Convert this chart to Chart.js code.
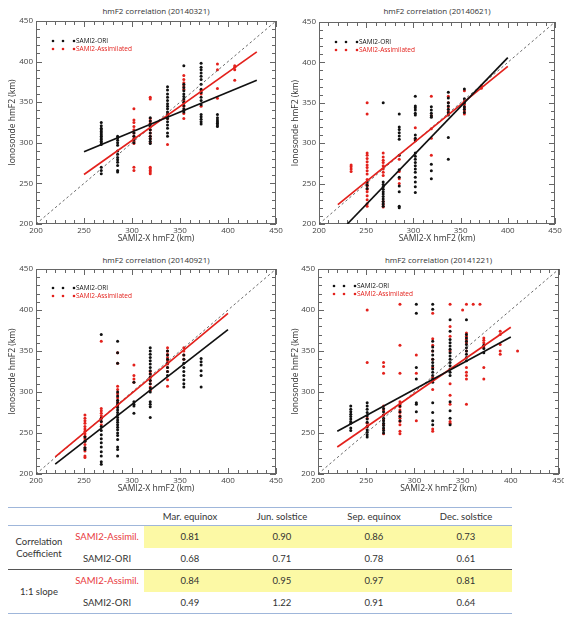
<!DOCTYPE html>
<html>
<head>
<meta charset="utf-8">
<script src="https://cdn.jsdelivr.net/npm/chart.js@4.4.0/dist/chart.umd.min.js"></script>
<style>
  body { margin: 0; background: #fff; width: 573px; height: 624px; position: relative; overflow: hidden; font-family: "Open Sans", sans-serif; }
  canvas { position: absolute; }
  .ptitle { position: absolute; font-size: 8px; color: #333; text-align: center; white-space: nowrap; }
  #tbl { position: absolute; left: 8px; top: 507px; width: 504px; border-collapse: collapse; table-layout: fixed;
         font-family: Lato, sans-serif; font-size: 9.5px; color: #333; }
  #tbl td, #tbl th { padding: 0; text-align: center; font-weight: normal; }
  #tbl tr.head { height: 18px; border-top: 1.5px solid #9fb6da; border-bottom: 1px solid #9fb6da; }
  #tbl tr.row { height: 22px; }
  #tbl tr.sep { border-top: 1.5px solid #555; }
  #tbl tr.last { border-bottom: 1.5px solid #9fb6da; }
  #tbl .red { color: #e8383d; }
  #tbl .hl { background: #fcf9a5; }
  #tbl .grp { line-height: 12px; }
</style>
</head>
<body>
<div class="ptitle" id="t1" style="left:36px;width:240px;top:5px;"></div>
<div class="ptitle" id="t2" style="left:319px;width:236px;top:5px;"></div>
<div class="ptitle" id="t3" style="left:36px;width:240px;top:254px;"></div>
<div class="ptitle" id="t4" style="left:318px;width:241px;top:254px;"></div>
<canvas id="c1" width="283" height="250" style="left:0;top:0;"></canvas>
<canvas id="c2" width="290" height="250" style="left:283px;top:0;"></canvas>
<canvas id="c3" width="283" height="250" style="left:0;top:250px;"></canvas>
<canvas id="c4" width="281" height="250" style="left:283px;top:250px;"></canvas>
<table id="tbl"></table>
<script>
// panel titles
var titles = ['hmF2 correlation (20140321)', 'hmF2 correlation (20140621)',
              'hmF2 correlation (20140921)', 'hmF2 correlation (20141221)'];

// scatter columns: [model hmF2, [ionosonde hmF2 values]]
var marOri = [
  [268, [262, 266, 270, 298, 300, 302, 304, 306, 308, 310, 312, 314, 316, 318, 321, 325]],
  [285, [264, 266, 272, 276, 279, 282, 286, 290, 297, 300, 303, 306, 308]],
  [302, [300, 304, 308, 312]],
  [319, [299, 302, 305, 308, 312, 316, 320, 323, 327, 331]],
  [337, [308, 312, 318, 322, 326, 330, 334, 338, 342, 345, 348, 352, 356, 360, 365, 369]],
  [354, [338, 342, 346, 350, 354, 357, 360, 364, 368, 372, 395]],
  [372, [323, 326, 329, 332, 335, 347, 352, 356, 362, 366, 372, 378, 382, 386, 390, 393, 398]],
  [389, [320, 322, 324, 326, 328, 331, 335]]
];
var marAsm = [
  [302, [266, 270, 299, 302, 305, 308, 312, 316, 320, 325, 328, 342]],
  [319, [262, 264, 266, 268, 270, 300, 305, 308, 312, 316, 320, 324, 327, 330, 354, 356]],
  [337, [298, 330, 333, 336]],
  [354, [330, 336, 340, 345, 349, 352, 366, 370, 374, 378, 383]],
  [372, [345, 360, 364]],
  [389, [355, 367, 390, 397]],
  [407, [377, 390, 393, 395]]
];
var junOri = [
  [251, [244, 248, 252]],
  [268, [222, 225, 228, 231, 234, 237, 240, 243, 246, 249, 252, 350]],
  [285, [220, 222, 240, 247, 258, 267, 285, 305, 309, 313, 317, 320, 336]],
  [302, [239, 246, 252, 258, 264, 268, 272, 276, 280, 284, 288, 303, 306, 310, 335, 337, 341, 344, 346, 358]],
  [319, [256, 266, 274, 332, 334, 337, 341, 345]],
  [337, [280, 307, 335, 338, 342, 346, 350, 356, 363]],
  [354, [338, 342, 345, 350, 355, 367]]
];
var junAsm = [
  [234, [265, 268, 271, 273]],
  [251, [222, 225, 230, 235, 240, 243, 247, 250, 255, 262, 266, 270, 273, 277, 281, 285, 288, 336, 350]],
  [268, [221, 224, 228, 260, 264, 268, 272, 276, 279, 283, 288]],
  [285, [250, 256, 265, 280]],
  [302, [305, 319]],
  [319, [285, 306, 318, 334, 358]],
  [337, [336, 340, 345, 350, 358]],
  [354, [336, 340, 344, 348, 352, 365]],
  [372, [368, 371]]
];
var sepOri = [
  [251, [230, 232, 240, 245]],
  [268, [212, 215, 222, 227, 233, 238, 243, 248, 253, 258, 264, 268, 370]],
  [285, [222, 230, 233, 242, 247, 250, 254, 257, 260, 263, 266, 269, 272, 275, 278, 281, 284, 287, 290, 295, 300, 335, 348, 362]],
  [302, [274, 283, 285, 288, 312]],
  [319, [269, 282, 285, 288, 300, 305, 310, 314, 318, 322, 326, 330, 334, 338, 342, 346, 350, 354]],
  [337, [320, 325, 330, 335, 340, 345, 350]],
  [354, [306, 310, 315, 320, 325, 330, 335, 340, 345]],
  [372, [306, 320, 326, 333, 337, 341]]
];
var sepAsm = [
  [251, [220, 222, 228, 232, 236, 240, 243, 246, 249, 252, 255, 258, 262, 265, 268, 272]],
  [268, [260, 264, 268, 271, 274, 277, 280, 362]],
  [285, [282, 285, 289, 293, 298, 303, 307, 335, 348]],
  [302, [312, 316, 320, 333]],
  [319, [302, 306, 310, 314, 318, 322, 325]],
  [337, [307, 315, 325, 330, 334, 338, 342, 346, 350, 354]],
  [354, [340, 345, 350, 354]]
];
var decOri = [
  [234, [253, 256, 262, 264, 267, 270, 273, 276, 279, 283]],
  [251, [245, 248, 251, 254, 258, 263, 267, 271, 275, 279, 283, 287]],
  [268, [250, 253, 256, 259, 262, 265, 268, 272, 276, 280]],
  [285, [265, 270, 276, 283]],
  [302, [276, 285, 287, 316, 330, 396, 407]],
  [319, [260, 265, 275, 287, 312, 316, 320, 324, 328, 332, 336, 340, 345, 350, 355, 362, 401, 407]],
  [337, [260, 268, 277, 288, 320, 324, 328, 332, 336, 340, 344, 348, 352, 356, 360, 364, 374, 388]],
  [354, [338, 342, 346, 350, 354, 358, 362, 366, 370, 388]],
  [372, [348, 353, 357]]
];
var decAsm = [
  [251, [258, 262, 268, 336, 400]],
  [268, [249, 255, 260, 266, 272, 278, 283, 323, 331, 336]],
  [285, [249, 252, 260, 264, 268, 271, 275, 278, 282, 285, 288, 323, 357, 407]],
  [302, [265, 323, 345]],
  [319, [252, 255, 303, 318, 330, 340, 350, 357, 365, 396]],
  [337, [262, 264, 285, 296, 310, 350, 368, 380, 407]],
  [350, [400]],
  [354, [285, 316, 320, 324, 330, 350, 360, 364, 368, 372, 407]],
  [361, [407]],
  [368, [407]],
  [372, [316, 330, 355, 360, 363, 366]],
  [389, [346, 350, 358, 370, 374]],
  [407, [350]]
];

// linear fit end points
var marOriFit = [[250, 289], [430, 377]];
var marAsmFit = [[250, 261], [430, 412]];
var junOriFit = [[230, 200], [400, 406]];
var junAsmFit = [[220, 224], [400, 395]];
var sepOriFit = [[220, 212], [400, 376]];
var sepAsmFit = [[220, 221], [400, 396]];
var decOriFit = [[220, 252], [400, 367]];
var decAsmFit = [[220, 233], [400, 379]];
var oneToOne = [[200, 200], [450, 450]];

// table
var seasons = ['Mar. equinox', 'Jun. solstice', 'Sep. equinox', 'Dec. solstice'];
var corrAsm = [0.81, 0.90, 0.86, 0.73];
var corrOri = [0.68, 0.71, 0.78, 0.61];
var slopeAsm = [0.84, 0.95, 0.97, 0.81];
var slopeOri = [0.49, 1.22, 0.91, 0.64];

var RED = '#e3211c';
var BLACK = '#111';

function columnsToPoints(cols) {
  var pts = [];
  cols.forEach(function (c) {
    c[1].forEach(function (y) { pts.push({ x: c[0], y: y }); });
  });
  return pts;
}
function pairs(arr) {
  return arr.map(function (p) { return { x: p[0], y: p[1] }; });
}

// box with inward ticks on all four sides
var frame = {
  id: 'frame',
  beforeDatasetsDraw: function (chart) {
    var a = chart.chartArea, c = chart.ctx;
    var xs = chart.scales.x, ys = chart.scales.y;
    c.save();
    c.strokeStyle = '#666';
    c.lineWidth = 1;
    c.strokeRect(a.left + 0.5, a.top + 0.5, a.right - a.left - 1, a.bottom - a.top - 1);
    c.beginPath();
    for (var v = 200; v <= 450; v += 10) {
      var len = v % 50 === 0 ? 6 : 4;
      var px = Math.round(xs.getPixelForValue(v)) + 0.5;
      c.moveTo(px, a.bottom); c.lineTo(px, a.bottom - len);
      c.moveTo(px, a.top); c.lineTo(px, a.top + len);
      var py = Math.round(ys.getPixelForValue(v)) + 0.5;
      c.moveTo(a.left, py); c.lineTo(a.left + len, py);
      c.moveTo(a.right, py); c.lineTo(a.right - len, py);
    }
    c.stroke();
    c.restore();
  }
};

// legend drawn inside the plot, upper left
var inLegend = {
  id: 'inlegend',
  afterDraw: function (chart, args, opts) {
    var a = chart.chartArea, c = chart.ctx;
    var rows = [['SAMI2-ORI', BLACK], ['SAMI2-Assimilated', RED]];
    c.save();
    c.font = '6.5px "Open Sans"';
    c.textBaseline = 'middle';
    rows.forEach(function (r, i) {
      var y = a.top + opts.dy + i * 8;
      c.fillStyle = r[1];
      [opts.dx, opts.dx + 10, opts.dx + 21].forEach(function (x) {
        c.beginPath(); c.arc(a.left + x, y, 1.3, 0, Math.PI * 2); c.fill();
      });
      c.fillText(r[0], a.left + opts.dx + 23, y);
    });
    c.restore();
  }
};

function makePanel(id, ori, asm, oriFit, asmFit, lay) {
  var ctx = document.getElementById(id).getContext('2d');
  return new Chart(ctx, {
    type: 'scatter',
    data: {
      datasets: [
        { data: pairs(oriFit), showLine: true, borderColor: BLACK, borderWidth: 1.7, pointRadius: 0, order: 0 },
        { data: pairs(asmFit), showLine: true, borderColor: RED, borderWidth: 1.7, pointRadius: 0, order: 0 },
        { data: pairs(oneToOne), showLine: true, borderColor: '#444', borderWidth: 0.8, borderDash: [2.5, 2.5], pointRadius: 0, order: 1 },
        { label: 'SAMI2-ORI', data: columnsToPoints(ori), backgroundColor: BLACK, borderWidth: 0, pointRadius: 1.5, order: 2 },
        { label: 'SAMI2-Assimilated', data: columnsToPoints(asm), backgroundColor: RED, borderWidth: 0, pointRadius: 1.5, order: 2 }
      ]
    },
    options: {
      responsive: false,
      animation: false,
      layout: { padding: { left: 0, right: lay.right, top: lay.top, bottom: 0 } },
      plugins: {
        legend: { display: false },
        tooltip: { enabled: false },
        inlegend: { dx: lay.dx, dy: lay.dy }
      },
      scales: {
        x: {
          type: 'linear', min: 200, max: 450,
          grid: { display: false, drawTicks: false },
          border: { display: false },
          ticks: { stepSize: 50, color: '#444', font: { size: 8, family: 'Open Sans' }, padding: 2, maxRotation: 0 },
          title: { display: true, text: 'SAMI2-X hmF2 (km)', color: '#333', font: { size: 8.5, family: 'Open Sans' }, padding: { top: 0, bottom: 6 } },
          afterFit: function (s) { s.height = 250 - lay.bottom; s.paddingLeft = 0; s.paddingRight = 0; }
        },
        y: {
          type: 'linear', min: 200, max: 450,
          grid: { display: false, drawTicks: false },
          border: { display: false },
          ticks: { stepSize: 50, color: '#444', font: { size: 8, family: 'Open Sans' }, padding: 3 },
          title: { display: true, text: 'Ionosonde hmF2 (km)', color: '#333', font: { size: 8.5, family: 'Open Sans' }, padding: { top: 7, bottom: 0 } },
          afterFit: function (s) { s.width = lay.left; }
        }
      }
    },
    plugins: [frame, inLegend]
  });
}

document.addEventListener('DOMContentLoaded', function () {
  ['t1', 't2', 't3', 't4'].forEach(function (id, i) {
    document.getElementById(id).textContent = titles[i];
  });

  makePanel('c1', marOri, marAsm, marOriFit, marAsmFit, { left: 36, right: 7, top: 21, bottom: 224, dx: 17, dy: 20 });
  makePanel('c2', junOri, junAsm, junOriFit, junAsmFit, { left: 36, right: 18, top: 22, bottom: 224, dx: 17, dy: 20 });
  makePanel('c3', sepOri, sepAsm, sepOriFit, sepAsmFit, { left: 36, right: 7, top: 19, bottom: 224, dx: 17, dy: 19 });
  makePanel('c4', decOri, decAsm, decOriFit, decAsmFit, { left: 35, right: 5, top: 19, bottom: 224, dx: 16, dy: 17 });

  // statistics table
  var fmt = function (v) { return v.toFixed(2); };
  var html = '<colgroup><col style="width:62px"><col style="width:74px">' +
             '<col style="width:92px"><col style="width:92px"><col style="width:92px"><col style="width:92px"></colgroup>';
  html += '<tr class="head"><th></th><th></th>' + seasons.map(function (s) { return '<th>' + s + '</th>'; }).join('') + '</tr>';
  html += '<tr class="row"><td rowspan="2" class="grp">Correlation<br>Coefficient</td><td class="red">SAMI2-Assimil.</td>' +
          corrAsm.map(function (v) { return '<td class="hl">' + fmt(v) + '</td>'; }).join('') + '</tr>';
  html += '<tr class="row"><td>SAMI2-ORI</td>' + corrOri.map(function (v) { return '<td>' + fmt(v) + '</td>'; }).join('') + '</tr>';
  html += '<tr class="row sep"><td rowspan="2">1:1 slope</td><td class="red">SAMI2-Assimil.</td>' +
          slopeAsm.map(function (v) { return '<td class="hl">' + fmt(v) + '</td>'; }).join('') + '</tr>';
  html += '<tr class="row last"><td>SAMI2-ORI</td>' + slopeOri.map(function (v) { return '<td>' + fmt(v) + '</td>'; }).join('') + '</tr>';
  document.getElementById('tbl').innerHTML = html;
});
</script>
</body>
</html>
